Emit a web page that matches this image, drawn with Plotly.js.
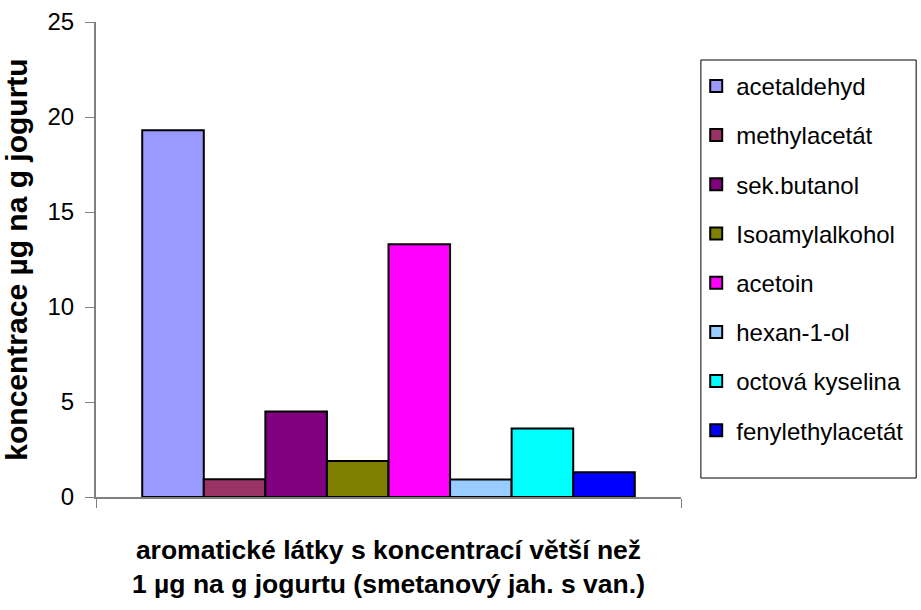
<!DOCTYPE html>
<html>
<head>
<meta charset="utf-8">
<script src="https://cdn.plot.ly/plotly-3.0.1.min.js"></script>
<style>
  html, body { margin: 0; padding: 0; background: #fff; }
  #chart { width: 921px; height: 610px; }
</style>
</head>
<body>
<div id="chart"></div>
<script>
const substances = [
  "acetaldehyd",
  "methylacetát",
  "sek.butanol",
  "Isoamylalkohol",
  "acetoin",
  "hexan-1-ol",
  "octová kyselina",
  "fenylethylacetát",
];
const concentrations = [19.3, 0.93, 4.5, 1.9, 13.3, 0.92, 3.6, 1.3];
const barColors = [
  "#9999ff",
  "#993366",
  "#800080",
  "#808000",
  "#ff00ff",
  "#99ccff",
  "#00ffff",
  "#0000ff",
];
const yTicks = [0, 5, 10, 15, 20, 25];

const traces = substances.map((name, i) => ({
  type: "bar",
  x: [""],
  y: [concentrations[i]],
  name: name,
  legendgroup: "g" + i,
  marker: { color: barColors[i], line: { color: "#000", width: 2 } },
  hoverinfo: "skip",
}));

const layout = {
  width: 921,
  height: 610,
  paper_bgcolor: "#fff",
  plot_bgcolor: "#fff",
  margin: { l: 96, r: 238, t: 22, b: 113 },
  font: { family: "Liberation Sans, Arial, sans-serif", size: 20, color: "#000" },
  barmode: "group",
  bargap: 0.158,
  bargroupgap: 0,
  showlegend: true,
  xaxis: {
    type: "category",
    showline: true,
    linecolor: "#808080",
    linewidth: 2,
    ticks: "outside",
    tickson: "boundaries",
    ticklen: 9,
    tickcolor: "#808080",
    showgrid: false,
    fixedrange: true,
    title: {
      text: "<b>aromatické látky s koncentrací větší než<br>1 µg na g jogurtu (smetanový jah. s van.)</b>",
      font: { size: 26.5 },
      standoff: 38,
    },
  },
  yaxis: {
    range: [0, 25],
    tickvals: yTicks,
    ticks: "outside",
    ticklen: 9,
    tickcolor: "#808080",
    ticklabelstandoff: 6,
    showline: true,
    linecolor: "#808080",
    linewidth: 2,
    showgrid: false,
    zeroline: false,
    fixedrange: true,
    tickfont: { size: 24 },
    title: {
      text: "<b>koncentrace µg na g jogurtu</b>",
      font: { size: 30 },
      standoff: 12,
    },
  },
  // legend frame drawn as a shape so its padding matches the original
  shapes: [
    {
      type: "rect",
      xref: "paper",
      yref: "paper",
      x0: 1.034,
      x1: 1.402,
      y0: 0.04,
      y1: 0.92,
      line: { color: "#000", width: 1 },
      fillcolor: "rgba(0,0,0,0)",
    },
  ],
  legend: {
    x: 1.026,
    xanchor: "left",
    y: 0.912,
    yanchor: "top",
    borderwidth: 0,
    bgcolor: "rgba(0,0,0,0)",
    font: { size: 24 },
    traceorder: "grouped",
    tracegroupgap: 15,
    itemwidth: 30,
  },
};

Plotly.newPlot("chart", traces, layout, { displayModeBar: false, staticPlot: true });
</script>
</body>
</html>
